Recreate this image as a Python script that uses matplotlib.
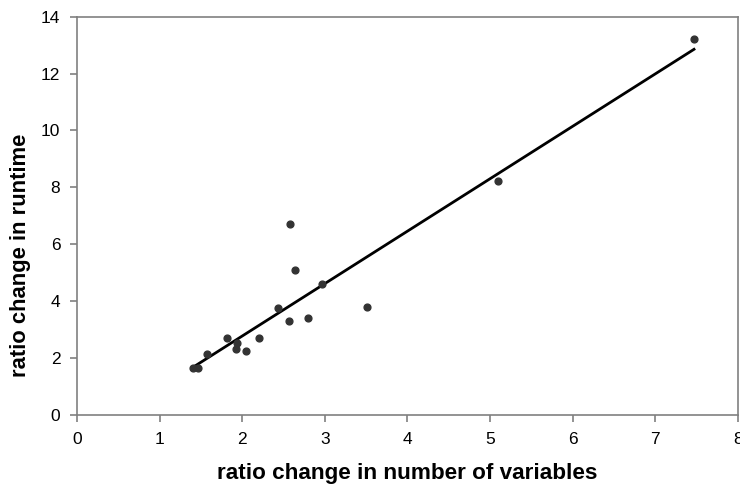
import numpy as np
import matplotlib.pyplot as plt

plt.rcParams['font.family'] = ['Liberation Sans', 'DejaVu Sans']

# ratio change in number of variables vs ratio change in runtime
var_ratio = [1.40, 1.47, 1.57, 1.82, 1.92, 1.94, 2.05, 2.20, 2.43, 2.57,
             2.58, 2.64, 2.80, 2.97, 3.51, 5.10, 7.47]
time_ratio = [1.66, 1.66, 2.14, 2.70, 2.32, 2.54, 2.25, 2.71, 3.77, 3.30,
              6.70, 5.09, 3.40, 4.60, 3.80, 8.24, 13.22]

x = np.array(var_ratio)
y = np.array(time_ratio)

fig = plt.figure(figsize=(7.4, 4.9), dpi=100)
ax = fig.add_axes([0.104, 0.153, 0.893, 0.813])

ax.scatter(x, y, s=24, color='#333333', zorder=3)

# linear trendline over the data range
slope, intercept = np.polyfit(x, y, 1)
xs = np.array([x.min(), x.max()])
ax.plot(xs, slope * xs + intercept, color='black', lw=2, zorder=2)

ax.set_xlim(0, 8)
ax.set_ylim(0, 14)
ax.set_xticks(range(0, 9))
ax.set_yticks(range(0, 15, 2))

for s in ax.spines.values():
    s.set_color('#808080')
    s.set_linewidth(1.2)
ax.tick_params(direction='out', length=5, width=1.2, color='#808080',
               labelsize=12.5, pad=7)

ax.set_xlabel('ratio change in number of variables', fontsize=16.2,
              fontweight='bold', labelpad=12)
ax.set_ylabel('ratio change in runtime', fontsize=15.8, fontweight='bold')
ax.yaxis.set_label_coords(-0.07, 0.40)

fig.savefig('out.png', dpi=100)
